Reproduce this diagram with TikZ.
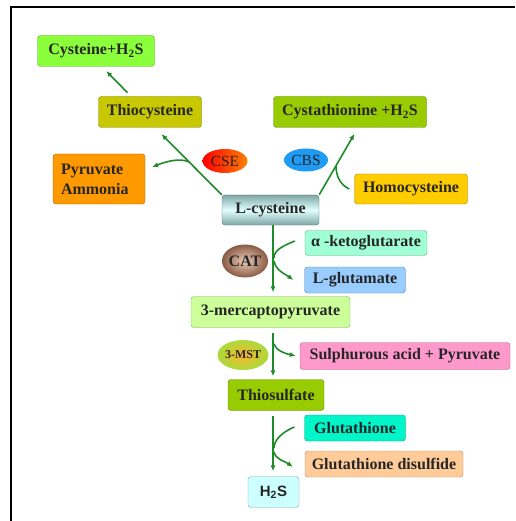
\documentclass[tikz,border=0pt]{standalone}
\usepackage{fontspec}
\setmainfont{Liberation Serif}
\setsansfont{Liberation Sans}
\usetikzlibrary{arrows.meta,shapes.geometric}
\definecolor{pathgreen}{HTML}{1E8A28}
\definecolor{cyshcol}{HTML}{8CFF3C}
\definecolor{thiocol}{HTML}{C8C800}
\definecolor{pyrcol}{HTML}{FF9900}
\definecolor{cystcol}{HTML}{99CC00}
\definecolor{homocol}{HTML}{FFCC00}
\definecolor{akgcol}{HTML}{A0FFD4}
\definecolor{glucol}{HTML}{99CCFF}
\definecolor{mpyrcol}{HTML}{CCFF99}
\definecolor{sulphcol}{HTML}{FF99CC}
\definecolor{gshcol}{HTML}{00F5C8}
\definecolor{gssgcol}{HTML}{FFCC99}
\definecolor{hscol}{HTML}{CCFFFF}
\definecolor{lcysedge}{HTML}{7FA6A6}
\definecolor{lcysmid}{HTML}{E2FFFF}
\definecolor{catin}{HTML}{EBCDB8}
\definecolor{catout}{HTML}{8A5B46}
\definecolor{cbscol}{HTML}{1E9BF5}
\definecolor{mstin}{HTML}{FFB22A}
\definecolor{mstout}{HTML}{A8DC3C}

\begin{document}
\begin{tikzpicture}[x=1pt,y=-1pt,
	box/.style={draw=#1!65!black, fill=#1, rounded corners=3pt, inner sep=2pt,
		minimum height=31pt, text=black!85, font=\fontsize{16}{20}\selectfont\bfseries},
	enz/.style={ellipse, inner sep=0pt, text=black!85, font=\fontsize{15.5}{18}\selectfont},
	flow/.style={draw=pathgreen, line width=1.6pt, -{Latex[length=6pt,width=5pt]}},
	feed/.style={draw=pathgreen, line width=1.6pt}]
	\useasboundingbox (0,0) rectangle (515,521);
	\draw[line width=1.5pt] (11,521) -- (11,7) -- (515,7);

	\node[box=cyshcol, minimum width=117pt] (cysh2s) at (96,51) {Cysteine+H\textsubscript{2}S};
	\node[box=thiocol, minimum width=103pt] (thio) at (150,112) {Thiocysteine};
	\node[box=pyrcol, minimum height=50pt, text width=76pt, inner xsep=8pt, align=left] (pyr) at (99,179) {Pyruvate\\Ammonia};
	\node[box=cystcol, minimum width=153pt] (cysth2s) at (350,112) {Cystathionine +H\textsubscript{2}S};
	\node[box=homocol, minimum width=113pt, minimum height=30pt] (homo) at (411,189) {Homocysteine};
	\node[draw=lcysedge!70!black, rounded corners=3pt, top color=lcysedge, bottom color=lcysedge, middle color=lcysmid,
		minimum width=97pt, minimum height=30pt, text=black!85, font=\fontsize{16}{20}\selectfont\bfseries] (lcys) at (270.5,210) {L-cysteine};
	\node[box=akgcol, minimum width=122pt, minimum height=25pt] (akg) at (366,243) {α -ketoglutarate};
	\node[box=glucol, minimum width=101pt, minimum height=26pt] (glu) at (355,280) {L-glutamate};
	\node[box=mpyrcol, minimum width=159pt] (mpyr) at (270.5,312) {3-mercaptopyruvate};
	\node[box=sulphcol, minimum width=210pt, minimum height=27pt] (sulph) at (405,356) {Sulphurous acid + Pyruvate};
	\node[box=cystcol, minimum width=96pt] (thios) at (276,395) {Thiosulfate};
	\node[box=gshcol, minimum width=101pt, minimum height=26pt] (gsh) at (355,428) {Glutathione};
	\node[box=gssgcol, minimum width=158pt, minimum height=26pt] (gssg) at (384,464) {Glutathione disulfide};
	\node[box=hscol, minimum width=51pt, font=\fontsize{15}{18}\selectfont\sffamily\bfseries] (h2s) at (273.5,492) {H\textsubscript{2}S};

	\node[enz, minimum width=45pt, minimum height=24pt, left color=red, right color=orange] (cse) at (225,161) {CSE};
	\node[enz, minimum width=44pt, minimum height=23pt, fill=cbscol] (cbs) at (306,160) {CBS};
	\node[enz, minimum width=46pt, minimum height=33pt, inner color=catin, outer color=catout, font=\fontsize{16}{18}\selectfont\bfseries] (cat) at (245,261) {CAT};
	\node[enz, minimum width=50pt, minimum height=30pt, inner color=mstin, outer color=mstout, font=\fontsize{12}{14}\selectfont\bfseries] (mst) at (243,355) {3-MST};

	\coordinate (stem) at (273,0);
	\coordinate (cse-j) at (189,162);
	\coordinate (cbs-j) at (336,166);
	\coordinate (cat-in) at (274,258);
	\coordinate (cat-out) at (274,261);
	\coordinate (mst-out) at (274,344);
	\coordinate (gsh-in) at (274,448);
	\coordinate (gsh-out) at (274,452);

	\draw[flow, shorten <=5pt, shorten >=6pt] ([xshift=-19pt]thio.north) -- ([xshift=6pt]cysh2s.south);
	\draw[flow, shorten >=9pt] (lcys.north west) -- ([xshift=5pt]thio.south);
	\draw[flow] (cse-j) .. controls +(-10,-5) and +(10,-4) .. ([xshift=7pt,yshift=12pt]pyr.east);
	\draw[flow, shorten >=7pt] (lcys.north east) -- ([xshift=8pt]cysth2s.south);
	\draw[feed] ([xshift=-5pt]homo.west) .. controls +(-9,-4) and +(0,10) .. (cbs-j);

	\draw[flow, shorten >=4pt] (lcys.south -| stem) -- (mpyr.north -| stem);
	\draw[feed] ([xshift=-10pt,yshift=2pt]akg.west) .. controls +(-12,5) and +(0,-8) .. (cat-in);
	\draw[flow] (cat-out) .. controls +(2,10) and +(-8,-6) .. ([xshift=-11pt]glu.west);

	\draw[flow, shorten <=5pt, shorten >=3pt] (mpyr.south -| stem) -- (thios.north -| stem);
	\draw[flow] (mst-out) .. controls +(3,8) and +(-8,-2) .. ([xshift=-4pt]sulph.west);

	\draw[flow, shorten <=5pt, shorten >=5pt] (thios.south -| stem) -- (h2s.north -| stem);
	\draw[feed] ([xshift=-10pt,yshift=1pt]gsh.west) .. controls +(-12,5) and +(0,-8) .. (gsh-in);
	\draw[flow] (gsh-out) .. controls +(2,8) and +(-8,-6) .. ([xshift=-12pt,yshift=-3pt]gssg.west);
\end{tikzpicture}
\end{document}
